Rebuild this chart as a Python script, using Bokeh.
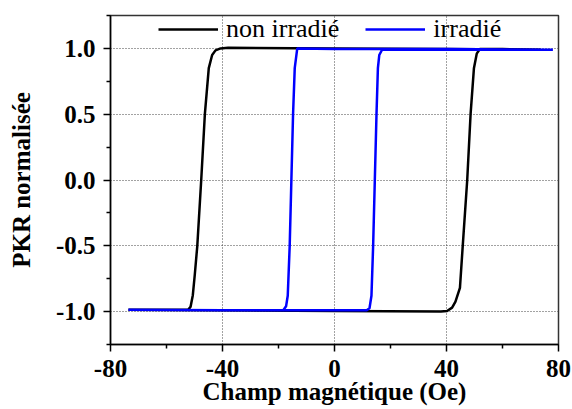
from bokeh.plotting import figure
from bokeh.models import Range1d, FixedTicker, Legend, LegendItem, PrintfTickFormatter
from bokeh.embed import file_html
from bokeh.resources import INLINE

# --- data (field in Oe, normalised PKR) ---
h_non = [-73.6, -40.0, 0.0, 38.0, 40.2, 42.0, 43.2, 44.8, 45.8, 47.4, 48.6, 49.8, 50.8, 51.9,
         60.0, 73.6,
         40.0, 0.0, -38.0, -40.7, -42.5, -43.7, -44.9, -46.3, -47.6, -49.0, -49.9, -50.6, -51.4, -52.2,
         -73.6]
m_non = [-0.985, -0.99, -0.995, -1.0, -0.995, -0.97, -0.925, -0.82, -0.5, 0.0, 0.5, 0.85, 0.96, 0.995,
         0.995, 0.99,
         0.995, 1.0, 1.005, 1.0, 0.985, 0.95, 0.85, 0.5, 0.0, -0.5, -0.72, -0.875, -0.963, -0.985,
         -0.985]

h_irr = [-73.6, -40.0, 0.0, 11.5, 12.5, 13.2, 13.8, 14.4, 15.0, 15.5, 16.0, 17.0,
         40.0, 78.0,
         40.0, 0.0, -13.3, -14.2, -14.8, -15.4, -16.0, -16.7, -17.3, -18.3,
         -40.0, -73.6]
m_irr = [-0.985, -0.99, -0.99, -0.99, -0.975, -0.88, -0.5, 0.0, 0.5, 0.85, 0.95, 0.99,
         0.99, 0.99,
         0.995, 0.995, 1.0, 0.85, 0.5, 0.0, -0.5, -0.88, -0.96, -0.99,
         -0.99, -0.985]

labels = ["non irradié", "irradié"]
x_major = [-80, -40, 0, 40, 80]
x_minor = [-60, -20, 20, 60]
y_major = [-1.0, -0.5, 0.0, 0.5, 1.0]
y_minor = [-1.25, -0.75, -0.25, 0.25, 0.75, 1.25]

FONT = "Liberation Serif"

p = figure(width=572, height=409, output_backend="svg", toolbar_location=None,
           x_range=Range1d(-80, 80), y_range=Range1d(-1.25, 1.25),
           min_border_left=110, min_border_right=14, min_border_top=15, min_border_bottom=65)

p.background_fill_color = "white"
p.border_fill_color = "white"
p.outline_line_color = "#333333"
p.outline_line_width = 1.5

r1 = p.line(h_non, m_non, line_color="black", line_width=2.5)
r2 = p.line(h_irr, m_irr, line_color="#0000FF", line_width=2.5)

p.xaxis.ticker = FixedTicker(ticks=x_major, minor_ticks=x_minor)
p.yaxis.ticker = FixedTicker(ticks=y_major, minor_ticks=y_minor)
p.xaxis.formatter = PrintfTickFormatter(format="%d")
p.yaxis.formatter = PrintfTickFormatter(format="%.1f")

for ax in (p.xaxis, p.yaxis):
    ax.axis_line_color = "black"
    ax.axis_line_width = 1.5
    ax.major_tick_line_color = "black"
    ax.major_tick_line_width = 1.5
    ax.minor_tick_line_color = "black"
    ax.minor_tick_line_width = 1.5
    ax.major_tick_in = 0
    ax.major_tick_out = 7
    ax.minor_tick_in = 0
    ax.minor_tick_out = 4
    ax.major_label_text_font = FONT
    ax.major_label_text_font_style = "bold"
    ax.major_label_text_font_size = "25px"
    ax.major_label_text_color = "black"
    ax.axis_label_text_font = FONT
    ax.axis_label_text_font_style = "bold"
    ax.axis_label_text_font_size = "25px"
    ax.axis_label_text_color = "black"

p.xaxis.axis_label = "Champ magnétique (Oe)"
p.yaxis.axis_label = "PKR normalisée"
p.xaxis.major_label_standoff = 8
p.xaxis.axis_label_standoff = -2
p.yaxis.major_label_standoff = 8
p.yaxis.axis_label_standoff = 18

p.xgrid.ticker = FixedTicker(ticks=x_major)
p.ygrid.ticker = FixedTicker(ticks=y_major)
for g in (p.xgrid, p.ygrid):
    g.grid_line_color = "#444444"
    g.grid_line_dash = "1 2"
    g.grid_line_width = 1

legend = Legend(items=[LegendItem(label=labels[0], renderers=[r1]),
                       LegendItem(label=labels[1], renderers=[r2])],
                orientation="horizontal", location=(48, 300),
                glyph_width=60, glyph_height=20, label_standoff=8, spacing=26,
                padding=0, margin=0,
                background_fill_alpha=0, border_line_alpha=0,
                label_text_font=FONT, label_text_font_size="26px",
                label_text_color="black")
p.add_layout(legend, "center")

open("out.html", "w").write(file_html(p, INLINE))
